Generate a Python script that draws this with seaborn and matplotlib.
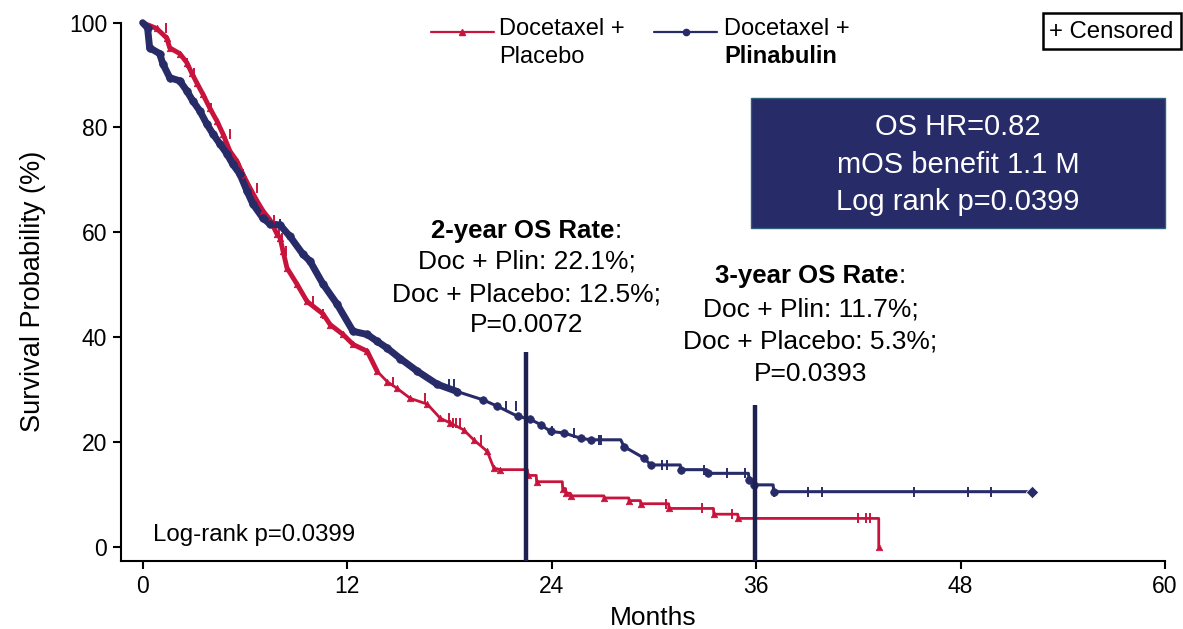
import numpy as np
import pandas as pd
import matplotlib
matplotlib.use("Agg")
import matplotlib.pyplot as plt
from matplotlib.lines import Line2D
from matplotlib.patches import Rectangle
import seaborn as sns

# ---------------- data ----------------
plin_t = [0, 0.29, 0.41, 1.0, 1.18, 1.59, 2.18, 2.59, 2.94, 3.35, 3.76, 4.12, 4.53, 4.94,
          5.29, 5.71, 6.12, 6.47, 7.06, 7.47, 8.06, 8.65, 9.41, 9.82, 10.59, 11.41, 12.35,
          13.18, 13.76, 14.35, 15.12, 16.12, 17.29, 18.47, 20.0, 20.82, 22.0, 22.76, 23.35,
          23.94, 24.73, 25.71, 26.29, 28.06, 28.25, 29.43, 29.82, 31.55, 31.59, 33.12, 33.16,
          35.55, 35.6, 35.9, 37.0, 37.04, 52.18]
plin_s = [100, 99.0, 95.2, 94.1, 92.2, 89.5, 88.9, 87.0, 85.1, 83.2, 80.7, 78.8, 76.9, 75.0,
          73.0, 71.1, 67.9, 65.4, 62.7, 61.6, 61.4, 59.2, 55.8, 54.5, 50.1, 46.3, 41.1,
          40.5, 39.2, 37.9, 35.9, 33.5, 31.0, 29.6, 28.0, 26.8, 24.9, 24.3, 23.3,
          22.0, 21.7, 20.7, 20.4, 20.4, 19.1, 16.9, 15.6, 15.6, 14.7, 14.7, 14.0,
          14.0, 12.7, 11.8, 11.8, 10.5, 10.5]

plac_t = [0, 0.82, 1.41, 1.59, 2.18, 2.59, 2.88, 3.18, 3.53, 3.94, 4.35, 4.71, 5.12, 5.53,
          5.88, 6.29, 6.71, 7.06, 7.47, 7.88, 8.06, 8.24, 8.47, 9.06, 9.65, 10.59, 11.0,
          11.76, 12.35, 13.18, 13.76, 14.35, 14.94, 15.71, 16.71, 17.47, 18.06, 18.84,
          19.43, 20.22, 20.61, 21.0, 22.58, 22.6, 23.1, 23.12, 24.63, 24.65, 24.82, 24.84,
          25.1, 25.12, 27.07, 27.09, 28.53, 28.55, 29.21, 29.23, 30.87, 30.89, 33.5, 33.52,
          34.93, 34.95, 43.2, 43.2]
plac_s = [100, 98.9, 97.1, 95.2, 94.1, 92.4, 90.4, 88.5, 86.4, 83.7, 81.3, 78.8, 75.5, 73.6,
          71.1, 68.5, 66.0, 64.1, 62.4, 59.7, 59.0, 56.4, 53.2, 50.1, 46.8, 44.4, 42.4,
          40.5, 38.6, 37.3, 33.5, 31.5, 30.2, 28.3, 27.2, 24.5, 23.6, 22.3,
          20.4, 18.2, 15.0, 14.7, 14.7, 13.6, 13.6, 12.4, 12.4, 11.1, 11.1, 10.2,
          10.2, 9.7, 9.7, 9.3, 9.3, 8.8, 8.8, 8.2, 8.2, 7.3, 7.3, 6.2,
          6.2, 5.4, 5.4, 0.0]

plin_censor = [8.04, 18.0, 18.3, 21.3, 21.9, 24.0, 25.3, 26.77, 26.9, 30.48, 30.77, 32.92,
               34.29, 35.36, 37.08, 39.03, 39.89, 45.27, 48.44, 49.8]
plac_censor = [1.4, 2.6, 3.0, 4.0, 5.1, 5.9, 6.7, 7.7, 8.0, 8.15, 8.4, 9.97, 10.6, 14.7,
               16.6, 18.0, 18.2, 18.4, 18.6, 19.85, 30.7, 32.8, 34.6, 35.95, 41.96, 42.48, 42.68]

x_ticks = [0, 12, 24, 36, 48, 60]
y_ticks = [0, 20, 40, 60, 80, 100]
landmarks = [22.5, 35.96]          # 2-year / 3-year marker lines
landmark_tops = [37.2, 27.0]

RED = "#C8143C"
NAVY = "#272B68"
LINE_NAVY = "#1D2150"

# ---------------- styling ----------------
sns.set_theme(style="ticks")
plt.rcParams["font.family"] = ["Liberation Sans", "DejaVu Sans"]
plt.rcParams["text.color"] = "black"
plt.rcParams["axes.labelcolor"] = "black"
plt.rcParams["xtick.color"] = "black"
plt.rcParams["ytick.color"] = "black"

fig = plt.figure(figsize=(11.83, 6.29), dpi=100)
W, H = 1183, 629
ax = fig.add_axes([121 / W, 68 / H, (1165 - 121) / W, (561 - 22.7) / H])

plin = pd.DataFrame({"t": plin_t, "s": plin_s})
plac = pd.DataFrame({"t": plac_t, "s": plac_s})

# curves
sns.lineplot(data=plac, x="t", y="s", sort=False, estimator=None, color=RED, lw=2.0,
             ax=ax, clip_on=False, zorder=3)
sns.lineplot(data=plac[plac.t <= 14], x="t", y="s", sort=False, estimator=None, color=RED,
             lw=3.5, ax=ax, clip_on=False, zorder=3)
sns.lineplot(data=plin, x="t", y="s", sort=False, estimator=None, color=NAVY, lw=2.2,
             ax=ax, clip_on=False, zorder=4)
sns.lineplot(data=plin[plin.t <= 18.5], x="t", y="s", sort=False, estimator=None, color=NAVY,
             lw=5, ax=ax, clip_on=False, zorder=4)

# event markers (at drops)
def drops(df):
    s = df.s.values
    m = np.r_[False, np.diff(s) < 0]
    return df[m]

sns.scatterplot(data=drops(plac), x="t", y="s", marker="^", s=22, color=RED,
                edgecolor=RED, linewidth=0.5, ax=ax, zorder=5, clip_on=False)
sns.scatterplot(data=drops(plin), x="t", y="s", marker="o", s=30, color=NAVY,
                edgecolor=NAVY, linewidth=0.5, ax=ax, zorder=6, clip_on=False)
sns.scatterplot(x=[plin_t[-1]], y=[plin_s[-1]], marker="D", s=40, color=NAVY, ax=ax, zorder=6)

# censor marks
def level(tt, st, c):
    tt = np.asarray(tt); st = np.asarray(st)
    out = []
    for x in c:
        idx = np.searchsorted(tt, x, side="right") - 1
        out.append(st[max(idx, 0)])
    return out

sns.scatterplot(x=plac_censor, y=level(plac_t, plac_s, plac_censor), marker="|", s=60,
                color=RED, linewidth=1.4, ax=ax, zorder=5)
sns.scatterplot(x=plin_censor, y=level(plin_t, plin_s, plin_censor), marker="|", s=60,
                color=NAVY, linewidth=1.4, ax=ax, zorder=6)

# landmark lines
for xl, yt in zip(landmarks, landmark_tops):
    ax.plot([xl, xl], [-2.73, yt], color=LINE_NAVY, lw=3.2, zorder=7, solid_capstyle="butt")

# axes
ax.set_xlim(-1.27, 60)
ax.set_ylim(-2.73, 100)
ax.set_xticks(x_ticks)
ax.set_yticks(y_ticks)
ax.set_xticklabels([str(v) for v in x_ticks])
ax.set_yticklabels([str(v) for v in y_ticks])
for side in ["top", "right"]:
    ax.spines[side].set_visible(False)
for side in ["left", "bottom"]:
    ax.spines[side].set_linewidth(1.5)
    ax.spines[side].set_color("black")
ax.tick_params(axis="both", direction="out", length=6, width=1.5, labelsize=16.5,
               colors="black", pad=4)
ax.set_xlabel("Months", fontsize=19, color="black")
ax.set_ylabel("Survival Probability (%)", fontsize=19.5, color="black")
ax.xaxis.set_label_coords(0.5096, -0.083)
ax.yaxis.set_label_coords(-0.072, 0.5)
ax.grid(False)

# annotations
def title_line(x, y, txt):
    t = ax.text(x - 0.2, y, txt, fontsize=18.5, fontweight="bold", ha="center",
                va="bottom", color="black")
    ax.annotate(":", xy=(1, 0), xycoords=t, fontsize=18.5, ha="left", va="bottom",
                color="black")

title_line(22.53, 58.0, "2-year OS Rate")
for yy, txt in zip([53.1, 46.8, 41.0], ["Doc + Plin: 22.1%;", "Doc + Placebo: 12.5%;", "P=0.0072"]):
    ax.text(22.53, yy, txt, fontsize=19, ha="center", va="baseline", color="black")

title_line(39.19, 49.4, "3-year OS Rate")
for yy, txt in zip([44.0, 37.9, 31.6], ["Doc + Plin: 11.7%;", "Doc + Placebo: 5.3%;", "P=0.0393"]):
    ax.text(39.19, yy, txt, fontsize=19, ha="center", va="baseline", color="black")

ax.text(0.59, 1.0, "Log-rank p=0.0399", fontsize=17.3, ha="left", va="baseline", color="black")

# summary box
ax.add_patch(Rectangle((35.7, 60.8), 60.0 - 35.7, 85.6 - 60.8, facecolor=NAVY,
                       edgecolor="#2f5f7a", lw=1, zorder=8, clip_on=False))
for yy, txt in zip([78.5, 71.3, 64.3], ["OS HR=0.82", "mOS benefit 1.1 M", "Log rank p=0.0399"]):
    ax.text(47.85, yy, txt, fontsize=21, color="white", ha="center", va="baseline", zorder=9)

# legend (manual, figure coordinates)
def fx(px): return px / W
def fy(py): return 1 - py / H

fig.add_artist(Line2D([fx(431), fx(494)], [fy(32.3), fy(32.3)], color=RED, lw=1.6))
fig.add_artist(Line2D([fx(462)], [fy(32.3)], color=RED, marker="^", markersize=4.5, lw=0))
fig.text(fx(499), fy(35), "Docetaxel +", fontsize=17, ha="left", va="baseline", color="black")
fig.text(fx(499), fy(63.3), "Placebo", fontsize=17, ha="left", va="baseline", color="black")

fig.add_artist(Line2D([fx(654), fx(717)], [fy(32.3), fy(32.3)], color=NAVY, lw=1.6))
fig.add_artist(Line2D([fx(686)], [fy(32.3)], color=NAVY, marker="o", markersize=4.5, lw=0))
fig.text(fx(724), fy(35), "Docetaxel +", fontsize=17, ha="left", va="baseline", color="black")
fig.text(fx(724), fy(63.3), "Plinabulin", fontsize=17, fontweight="bold", ha="left",
         va="baseline", color="black")

# censored box
fig.add_artist(Rectangle((fx(1043), fy(49)), fx(1181) - fx(1043), fy(13) - fy(49),
                         transform=fig.transFigure, facecolor="white", edgecolor="black", lw=1.8))
fig.text(fx(1049), fy(38.5), "+ Censored", fontsize=17.3, ha="left", va="baseline", color="black")

fig.savefig("out.png", dpi=100)
